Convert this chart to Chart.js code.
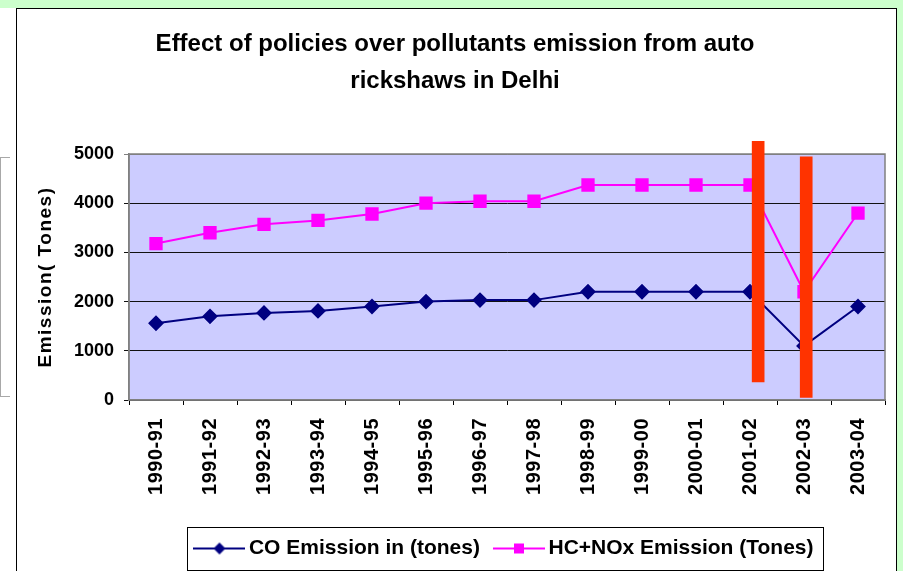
<!DOCTYPE html>
<html lang="en">
<head>
    <meta charset="UTF-8">
    <title>Effect of policies over pollutants emission</title>
    <script src="https://cdn.jsdelivr.net/npm/chart.js"></script>
    <style>
        body {
            margin: 0;
            width: 903px;
            height: 571px;
            overflow: hidden;
            position: relative;
            background-color: #ccffcc;
            font-family: "Liberation Sans", Arial, sans-serif;
        }
        .leftStrip {
            position: absolute;
            left: 0; top: 8px; width: 16px; bottom: 0;
            background: white;
        }
        .greyBox {
            position: absolute;
            left: 0; top: 149px; width: 9px; height: 238px;
            border: 1px solid #a8a8a8;
            border-right: none;
        }
        .frame {
            position: absolute;
            left: 16px; top: 8px; right: 6px; bottom: -2px;
            background: white;
            border: 1px solid #000;
        }
        #chart {
            position: absolute;
            left: 0; top: 0;
        }
    </style>
</head>
<body>
    <div class="leftStrip"><div class="greyBox"></div></div>
    <div class="frame"></div>
    <canvas id="chart" width="903" height="571"></canvas>

    <script>
        // data
        const years = ["1990-91", "1991-92", "1992-93", "1993-94", "1994-95", "1995-96", "1996-97",
                       "1997-98", "1998-99", "1999-00", "2000-01", "2001-02", "2002-03", "2003-04"];
        const coEmission = [1560, 1700, 1770, 1810, 1900, 2000, 2030, 2030, 2200, 2200, 2200, 2200, 1100, 1900];
        const hcNoxEmission = [3180, 3400, 3570, 3650, 3780, 4000, 4040, 4040, 4370, 4370, 4370, 4370, 2200, 3800];
        // red policy markers (position in category units, low, high)
        const policyPos = [11.04, 11.93];
        const policyLow = [370, 50];
        const policyHigh = [5260, 4940];
        const yTicks = [0, 1000, 2000, 3000, 4000, 5000];

        const NAVY = '#000080', PINK = '#ff00ff';

        // little line+marker icons for the legend
        function legendIcon(color, shape) {
            const c = document.createElement('canvas');
            c.width = 52; c.height = 16;
            const g = c.getContext('2d');
            g.strokeStyle = color; g.fillStyle = color; g.lineWidth = 2;
            g.beginPath(); g.moveTo(0, 8); g.lineTo(52, 8); g.stroke();
            g.beginPath();
            if (shape === 'diamond') {
                g.moveTo(26, 2); g.lineTo(32, 8); g.lineTo(26, 14); g.lineTo(20, 8);
            } else {
                g.rect(21, 3, 10, 10);
            }
            g.closePath(); g.fill();
            return c;
        }
        const icons = [legendIcon(NAVY, 'diamond'), legendIcon(PINK, 'square')];

        const plotBackground = {
            id: 'plotBackground',
            beforeDraw(chart) {
                const a = chart.chartArea, ctx = chart.ctx;
                ctx.save();
                ctx.fillStyle = '#ccccff';
                ctx.fillRect(a.left, a.top, a.right - a.left, a.bottom - a.top);
                ctx.restore();
            },
            beforeDatasetsDraw(chart) {
                const a = chart.chartArea, ctx = chart.ctx;
                ctx.save();
                ctx.strokeStyle = '#808080';
                ctx.lineWidth = 1.5;
                ctx.strokeRect(a.left, a.top, a.right - a.left, a.bottom - a.top);
                ctx.restore();
            },
            afterDraw(chart) {
                // box round the legend
                const hb = chart.legend.legendHitBoxes;
                if (!hb || !hb.length) return;
                const l = Math.min(...hb.map(b => b.left)) - 13;
                const r = Math.max(...hb.map(b => b.left + b.width)) + 10;
                const t = hb[0].top - 11, h = hb[0].height + 22;
                const ctx = chart.ctx;
                ctx.save();
                ctx.strokeStyle = '#000';
                ctx.lineWidth = 1;
                ctx.strokeRect(Math.round(l) + 0.5, Math.round(t) + 0.5, Math.round(r - l), Math.round(h));
                ctx.restore();
            }
        };

        // axis text in the picture is spaced out a bit
        const axisSpacing = { x: { labels: '0.5px', title: '0px' }, y: { labels: '0px', title: '1.5px' } };
        const spacedAxisText = {
            id: 'spacedAxisText',
            afterLayout(chart) {
                ['x', 'y'].forEach(id => {
                    const s = chart.scales[id];
                    if (!s || s._spaced) return;
                    s._spaced = true;
                    const dl = s.drawLabels.bind(s), dt = s.drawTitle.bind(s);
                    s.drawLabels = area => { s.ctx.save(); s.ctx.letterSpacing = axisSpacing[id].labels; dl(area); s.ctx.restore(); };
                    s.drawTitle = () => { s.ctx.save(); s.ctx.letterSpacing = axisSpacing[id].title; dt(); s.ctx.restore(); };
                });
            }
        };

        const ctx = document.getElementById('chart').getContext('2d');
        const chart = new Chart(ctx, {
            type: 'line',
            data: {
                labels: years,
                datasets: [
                    {
                        label: 'CO Emission in (tones)',
                        data: coEmission,
                        borderColor: NAVY, backgroundColor: NAVY,
                        borderWidth: 2,
                        pointStyle: 'rectRot', pointRadius: 6.5,
                        pointBorderColor: NAVY, pointBackgroundColor: NAVY,
                        order: 2
                    },
                    {
                        label: 'HC+NOx Emission (Tones)',
                        data: hcNoxEmission,
                        borderColor: PINK, backgroundColor: PINK,
                        borderWidth: 2,
                        pointStyle: 'rect', pointRadius: 8,
                        pointBorderColor: PINK, pointBackgroundColor: PINK,
                        order: 1
                    },
                    {
                        type: 'bar',
                        label: 'policy',
                        xAxisID: 'xPolicy',
                        data: policyPos.map((p, i) => ({ x: p, y: [policyLow[i], policyHigh[i]] })),
                        backgroundColor: '#ff3300',
                        barThickness: 12,
                        clip: false,
                        order: 0
                    }
                ]
            },
            options: {
                responsive: false,
                animation: false,
                events: [],
                layout: { padding: { left: 25, right: 18, top: 0, bottom: 2 } },
                scales: {
                    x: {
                        offset: true,
                        grid: { drawOnChartArea: false, offset: true, tickLength: 5, color: '#000' },
                        border: { color: '#808080', width: 1.5 },
                        ticks: {
                            autoSkip: false, minRotation: 90, maxRotation: 90, padding: 13,
                            color: '#000', font: { family: 'Liberation Sans', size: 20, weight: 'bold' }
                        },
                        afterFit: s => { s.height = 118; }
                    },
                    xPolicy: {
                        type: 'linear', display: false, offset: false,
                        min: -0.5, max: years.length - 0.5
                    },
                    y: {
                        min: 0, max: 5000,
                        afterBuildTicks: s => { s.ticks = yTicks.map(v => ({ value: v })); },
                        grid: {
                            tickLength: 5,
                            color: c => (c.tick && c.tick.value === 5000) ? '#808080' : '#111'
                        },
                        border: { color: '#808080', width: 1.5 },
                        ticks: {
                            padding: 10, color: '#000',
                            callback: v => String(v),
                            font: { family: 'Liberation Sans', size: 18, weight: 'bold' }
                        },
                        title: {
                            display: true, text: 'Emission( Tones)', color: '#000',
                            padding: { top: 9 },
                            font: { family: 'Liberation Sans', size: 19, weight: 'bold' }
                        },
                        afterFit: s => { s.width = 104; }
                    }
                },
                plugins: {
                    title: {
                        display: true,
                        text: ['Effect of policies over pollutants emission from auto', 'rickshaws in Delhi'],
                        color: '#000',
                        font: { family: 'Liberation Sans', size: 24, weight: 'bold', lineHeight: '37px' },
                        padding: { top: 26, bottom: 54 }
                    },
                    legend: {
                        position: 'bottom',
                        fullSize: false,
                        labels: {
                            usePointStyle: true,
                            pointStyleWidth: 38,
                            padding: 20,
                            color: '#000',
                            font: { family: 'Liberation Sans', size: 21, weight: 'bold' },
                            sort: (a, b) => a.datasetIndex - b.datasetIndex,
                            generateLabels: c => Chart.defaults.plugins.legend.labels.generateLabels(c)
                                .filter(l => l.datasetIndex < 2)
                                .map(l => Object.assign(l, { pointStyle: icons[l.datasetIndex] }))
                        }
                    },
                    tooltip: { enabled: false }
                }
            },
            plugins: [plotBackground, spacedAxisText]
        });
    </script>
</body>
</html>
